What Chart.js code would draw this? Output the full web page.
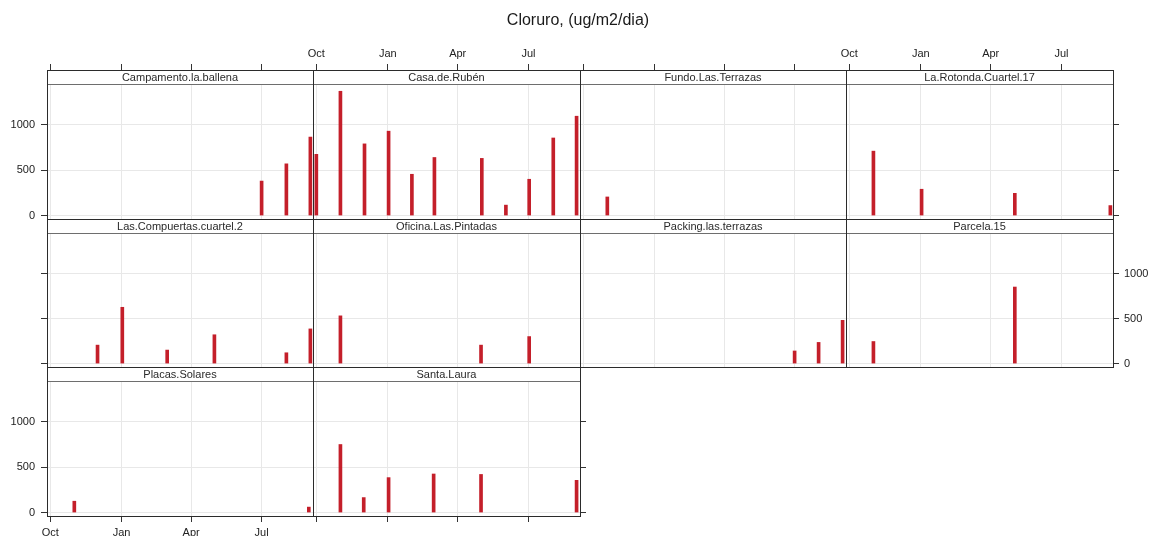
<!DOCTYPE html>
<html>
<head>
<meta charset="utf-8">
<script src="https://cdn.jsdelivr.net/npm/chart.js@4"></script>
<style>
html, body { margin: 0; padding: 0; background: #fff; }
#wrap { position: relative; width: 1149px; height: 540px; overflow: hidden; background: #fff; }
#wrap canvas { position: absolute; left: 0; top: 0; }
#title { position: absolute; left: 0; width: 1156px; top: 11px; line-height: 18px; text-align: center;
  font-family: "Liberation Sans", Arial, sans-serif; font-size: 16px; color: #1a1a1a; z-index: 5; }
</style>
</head>
<body>
<div id="wrap"><div id="title">Cloruro, (ug/m2/dia)</div></div>
<script>
// ---------------- DATA ----------------
const tickDates  = ['2013-10-01', '2014-01-01', '2014-04-01', '2014-07-01'];
const tickLabels = ['Oct', 'Jan', 'Apr', 'Jul'];
const yTickValues = [0, 500, 1000];

const stationNames = [
  'Campamento.la.ballena', 'Casa.de.Rubén', 'Fundo.Las.Terrazas', 'La.Rotonda.Cuartel.17',
  'Las.Compuertas.cuartel.2', 'Oficina.Las.Pintadas', 'Packing.las.terrazas', 'Parcela.15',
  'Placas.Solares', 'Santa.Laura'
];

const campamentoDates  = ['2014-07-01', '2014-08-02', '2014-09-02'];
const campamentoValues = [380, 570, 865];

const casaRubenDates  = ['2013-10-01', '2013-11-01', '2013-12-02', '2014-01-02', '2014-02-01', '2014-03-02',
                         '2014-05-02', '2014-06-02', '2014-07-02', '2014-08-02', '2014-09-01'];
const casaRubenValues = [675, 1370, 790, 930, 455, 640, 630, 115, 400, 855, 1095];

const fundoDates  = ['2013-11-01'];
const fundoValues = [205];

const rotondaDates  = ['2013-11-01', '2014-01-02', '2014-05-02', '2014-09-02'];
const rotondaValues = [710, 290, 245, 110];

const compuertasDates  = ['2013-12-01', '2014-01-02', '2014-03-01', '2014-05-01', '2014-08-02', '2014-09-02'];
const compuertasValues = [205, 625, 150, 320, 120, 385];

const oficinaDates  = ['2013-11-01', '2014-05-01', '2014-07-02'];
const oficinaValues = [530, 205, 300];

const packingDates  = ['2014-07-01', '2014-08-01', '2014-09-01'];
const packingValues = [140, 235, 480];

const parcelaDates  = ['2013-11-01', '2014-05-02'];
const parcelaValues = [245, 850];

const placasDates  = ['2013-11-01', '2014-08-31'];
const placasValues = [125, 60];

const santaLauraDates  = ['2013-11-01', '2013-12-01', '2014-01-02', '2014-03-01', '2014-05-01', '2014-09-01'];
const santaLauraValues = [750, 165, 385, 425, 420, 355];

const seriesDates  = [campamentoDates, casaRubenDates, fundoDates, rotondaDates, compuertasDates,
                      oficinaDates, packingDates, parcelaDates, placasDates, santaLauraDates];
const seriesValues = [campamentoValues, casaRubenValues, fundoValues, rotondaValues, compuertasValues,
                      oficinaValues, packingValues, parcelaValues, placasValues, santaLauraValues];

// ---------------- LAYOUT / STYLE ----------------
const W = 1149, H = 540;
const COLS = [47, 313, 580, 846, 1113];
const ROWS = [70, 219, 367, 516];
const STRIP = 14;
const Y_MIN = -38, Y_MAX = 1450;
const X_MIN = -4.3, X_MAX = 339.4;
const AX_LEFT = 40, AX_RIGHT = 36, AX_TOP = 30, AX_BOTTOM = 20;
const FONT = '"Liberation Sans", Arial, sans-serif';
const BAR_COLOR = '#c41f2a';
const GRID_COLOR = '#e8e8e8';
const TEXT_COLOR = '#222';

// axis modes: 0 none, 1 ticks only, 2 ticks + labels
const topMode    = [1, 2, 1, 2, 0, 0, 0, 0, 0, 0];
const bottomMode = [0, 0, 0, 0, 0, 0, 0, 0, 2, 1];
const leftMode   = [2, 0, 0, 0, 1, 0, 0, 0, 2, 0];
const rightMode  = [0, 0, 0, 1, 0, 0, 0, 2, 0, 1];

const ORIGIN = Date.parse('2013-10-01');
const dayOf = s => (Date.parse(s) - ORIGIN) / 86400000;
const tickDays = tickDates.map(dayOf);

const wrap = document.getElementById('wrap');

const panelPlugin = {
  id: 'panelDeco',
  afterDraw(chart) {
    const opts = chart.options.plugins.panelDeco;
    const a = chart.chartArea;
    const ctx = chart.ctx;
    ctx.save();
    ctx.fillStyle = '#ffffff';
    ctx.fillRect(a.left + 1, a.top + 1, a.right - a.left - 1, STRIP - 1);
    ctx.strokeStyle = '#6e6e6e';
    ctx.lineWidth = 1;
    ctx.beginPath();
    ctx.moveTo(a.left, a.top + STRIP + 0.5);
    ctx.lineTo(a.right, a.top + STRIP + 0.5);
    ctx.stroke();
    ctx.fillStyle = '#2a2a2a';
    ctx.font = '11px ' + FONT;
    ctx.textAlign = 'center';
    ctx.textBaseline = 'middle';
    ctx.fillText(opts.label, (a.left + a.right) / 2, a.top + STRIP / 2 + 1);
    ctx.strokeStyle = '#2b2b2b';
    ctx.strokeRect(a.left + 0.5, a.top + 0.5, a.right - a.left, a.bottom - a.top);
    ctx.restore();
  }
};

function tickFont() { return { family: FONT, size: 11 }; }

function makePanel(i) {
  const r = Math.floor(i / 4), c = i % 4;
  const L = COLS[c], R = COLS[c + 1], T = ROWS[r], B = ROWS[r + 1];
  const canvas = document.createElement('canvas');
  canvas.width = W; canvas.height = H;
  canvas.style.width = W + 'px'; canvas.style.height = H + 'px';
  wrap.appendChild(canvas);

  const pxPerUnit = (B - T - STRIP) / (Y_MAX - Y_MIN);
  const yTop = Y_MAX + STRIP / pxPerUnit;

  const pts = seriesDates[i].map((d, k) => ({ x: dayOf(d), y: seriesValues[i][k] }));

  const xTicks = s => { s.ticks = tickDays.map(v => ({ value: v })); };
  const yTicks = s => { s.ticks = yTickValues.map(v => ({ value: v })); };
  const xLabel = (v, idx) => tickLabels[idx];
  const yLabel = v => String(v);

  new Chart(canvas, {
    type: 'bar',
    data: {
      datasets: [{
        data: pts,
        backgroundColor: BAR_COLOR,
        borderWidth: 0,
        barThickness: 3,
        xAxisID: 'x',
        yAxisID: 'y'
      }]
    },
    options: {
      responsive: false,
      maintainAspectRatio: false,
      devicePixelRatio: 1,
      animation: false,
      events: [],
      layout: {
        autoPadding: false,
        padding: { left: L - AX_LEFT, right: W - R - AX_RIGHT, top: T - AX_TOP, bottom: H - B - AX_BOTTOM }
      },
      plugins: {
        legend: { display: false },
        tooltip: { enabled: false },
        title: { display: false },
        panelDeco: { label: stationNames[i] }
      },
      scales: {
        x: {
          type: 'linear', axis: 'x', position: 'bottom', min: X_MIN, max: X_MAX,
          offset: false,
          afterBuildTicks: xTicks,
          afterFit: s => { s.height = AX_BOTTOM; },
          grid: { display: true, offset: false, color: GRID_COLOR, lineWidth: 1, drawOnChartArea: true,
                  drawTicks: bottomMode[i] > 0, tickLength: 6, tickColor: '#333', tickWidth: 1 },
          border: { display: false },
          ticks: { display: bottomMode[i] === 2, padding: 4, color: TEXT_COLOR, font: tickFont(),
                   callback: xLabel, autoSkip: false, maxRotation: 0, minRotation: 0 }
        },
        x2: {
          type: 'linear', axis: 'x', position: 'top', min: X_MIN, max: X_MAX,
          offset: false,
          afterBuildTicks: xTicks,
          afterFit: s => { s.height = AX_TOP; },
          grid: { display: true, offset: false, drawOnChartArea: false,
                  drawTicks: topMode[i] > 0, tickLength: 6, tickColor: '#333', tickWidth: 1 },
          border: { display: false },
          ticks: { display: topMode[i] === 2, padding: 3, color: TEXT_COLOR, font: tickFont(),
                   callback: xLabel, autoSkip: false, maxRotation: 0, minRotation: 0 }
        },
        y: {
          type: 'linear', axis: 'y', position: 'left', min: Y_MIN, max: yTop,
          afterBuildTicks: yTicks,
          afterFit: s => { s.width = AX_LEFT; },
          grid: { display: true, color: GRID_COLOR, lineWidth: 1, drawOnChartArea: true,
                  drawTicks: leftMode[i] > 0, tickLength: 6, tickColor: '#333', tickWidth: 1 },
          border: { display: false },
          ticks: { display: leftMode[i] === 2, padding: 6, color: TEXT_COLOR, font: tickFont(), callback: yLabel }
        },
        y2: {
          type: 'linear', axis: 'y', position: 'right', min: Y_MIN, max: yTop,
          afterBuildTicks: yTicks,
          afterFit: s => { s.width = AX_RIGHT; },
          grid: { display: true, drawOnChartArea: false,
                  drawTicks: rightMode[i] > 0, tickLength: 6, tickColor: '#333', tickWidth: 1 },
          border: { display: false },
          ticks: { display: rightMode[i] === 2, padding: 5, color: TEXT_COLOR, font: tickFont(), callback: yLabel }
        }
      }
    },
    plugins: [panelPlugin]
  });
}

for (let i = 0; i < stationNames.length; i++) makePanel(i);
</script>
</body>
</html>
